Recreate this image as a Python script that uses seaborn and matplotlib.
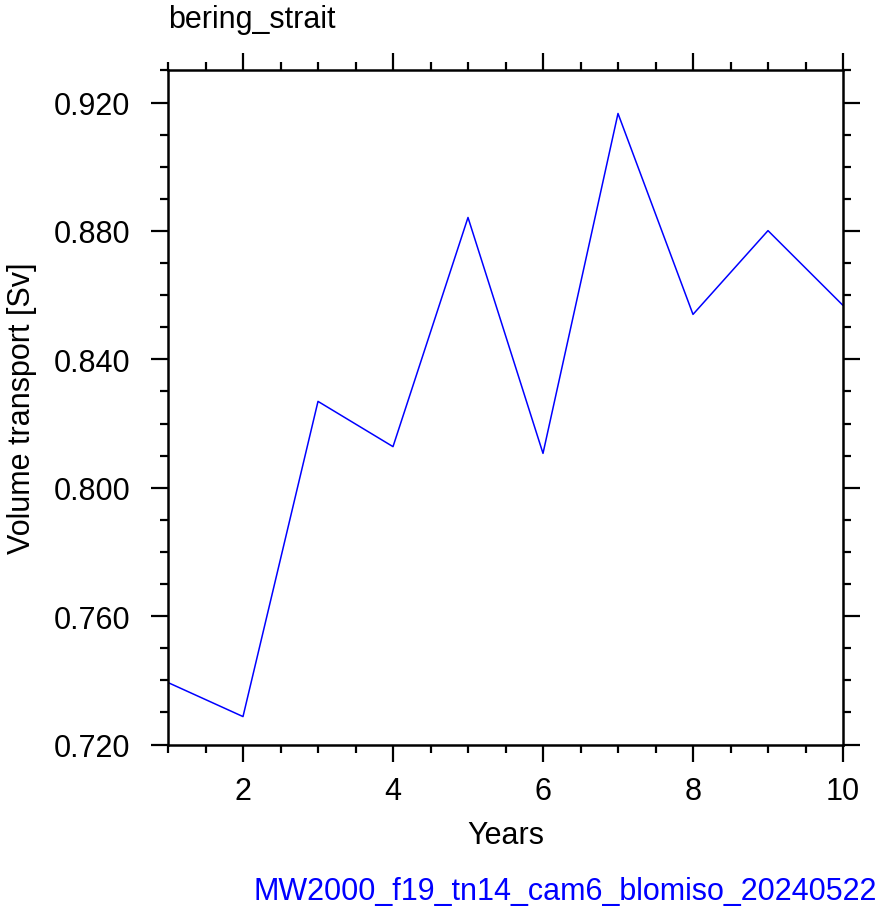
import matplotlib
matplotlib.use("Agg")
import matplotlib.pyplot as plt
from matplotlib.ticker import MultipleLocator, FormatStrFormatter
import numpy as np
import pandas as pd
import seaborn as sns

# yearly mean volume transport through the strait
years = [1, 2, 3, 4, 5, 6, 7, 8, 9, 10]
transport = [0.7393, 0.7287, 0.8269, 0.8128, 0.8842, 0.8107, 0.9166, 0.8540, 0.8801, 0.8568]

region = "bering_strait"
case_name = "MW2000_f19_tn14_cam6_blomiso_20240522"

sns.set_style("ticks")
plt.rcParams['font.family'] = ['Liberation Sans', 'DejaVu Sans']
plt.rcParams['text.color'] = 'black'
plt.rcParams['axes.labelcolor'] = 'black'
plt.rcParams['xtick.color'] = 'black'
plt.rcParams['ytick.color'] = 'black'

df = pd.DataFrame({"Years": years, "transport": transport})

fig = plt.figure(figsize=(8.82, 9.12), dpi=100)
ax = fig.add_axes([168 / 882, 1 - 745.5 / 912, (843 - 168) / 882, (745.5 - 70.5) / 912])

sns.lineplot(data=df, x="Years", y="transport", ax=ax, color="#0000ff", lw=1.1)

ax.set_xlim(1, 10)
ax.set_ylim(0.72, 0.9303)
ax.xaxis.set_major_locator(MultipleLocator(2))
ax.xaxis.set_minor_locator(MultipleLocator(0.5))
ax.yaxis.set_major_locator(MultipleLocator(0.04))
ax.yaxis.set_minor_locator(MultipleLocator(0.01))
ax.yaxis.set_major_formatter(FormatStrFormatter("%.3f"))

for s in ax.spines.values():
    s.set_visible(True)
    s.set_linewidth(1.8)
    s.set_color("black")

ax.tick_params(which="both", direction="out", top=True, right=True,
               labeltop=False, labelright=False, width=1.6, color="black",
               labelcolor="black")
ax.tick_params(which="major", length=12, labelsize=22, pad=15)
ax.tick_params(which="minor", length=6)
ax.tick_params(axis="x", which="major", pad=11)

ax.set_xlabel("Years", fontsize=22, labelpad=10, color="black")
ax.set_ylabel("Volume transport [Sv]", fontsize=22, labelpad=12, color="black")

fig.text(168 / 882, 1 - 28 / 912, region, fontsize=22, ha="left",
         va="baseline", color="black")
fig.text(877 / 882, 1 - 900 / 912, case_name, fontsize=22, ha="right",
         va="baseline", color="#0000ff")

fig.savefig("out.png", dpi=100)
